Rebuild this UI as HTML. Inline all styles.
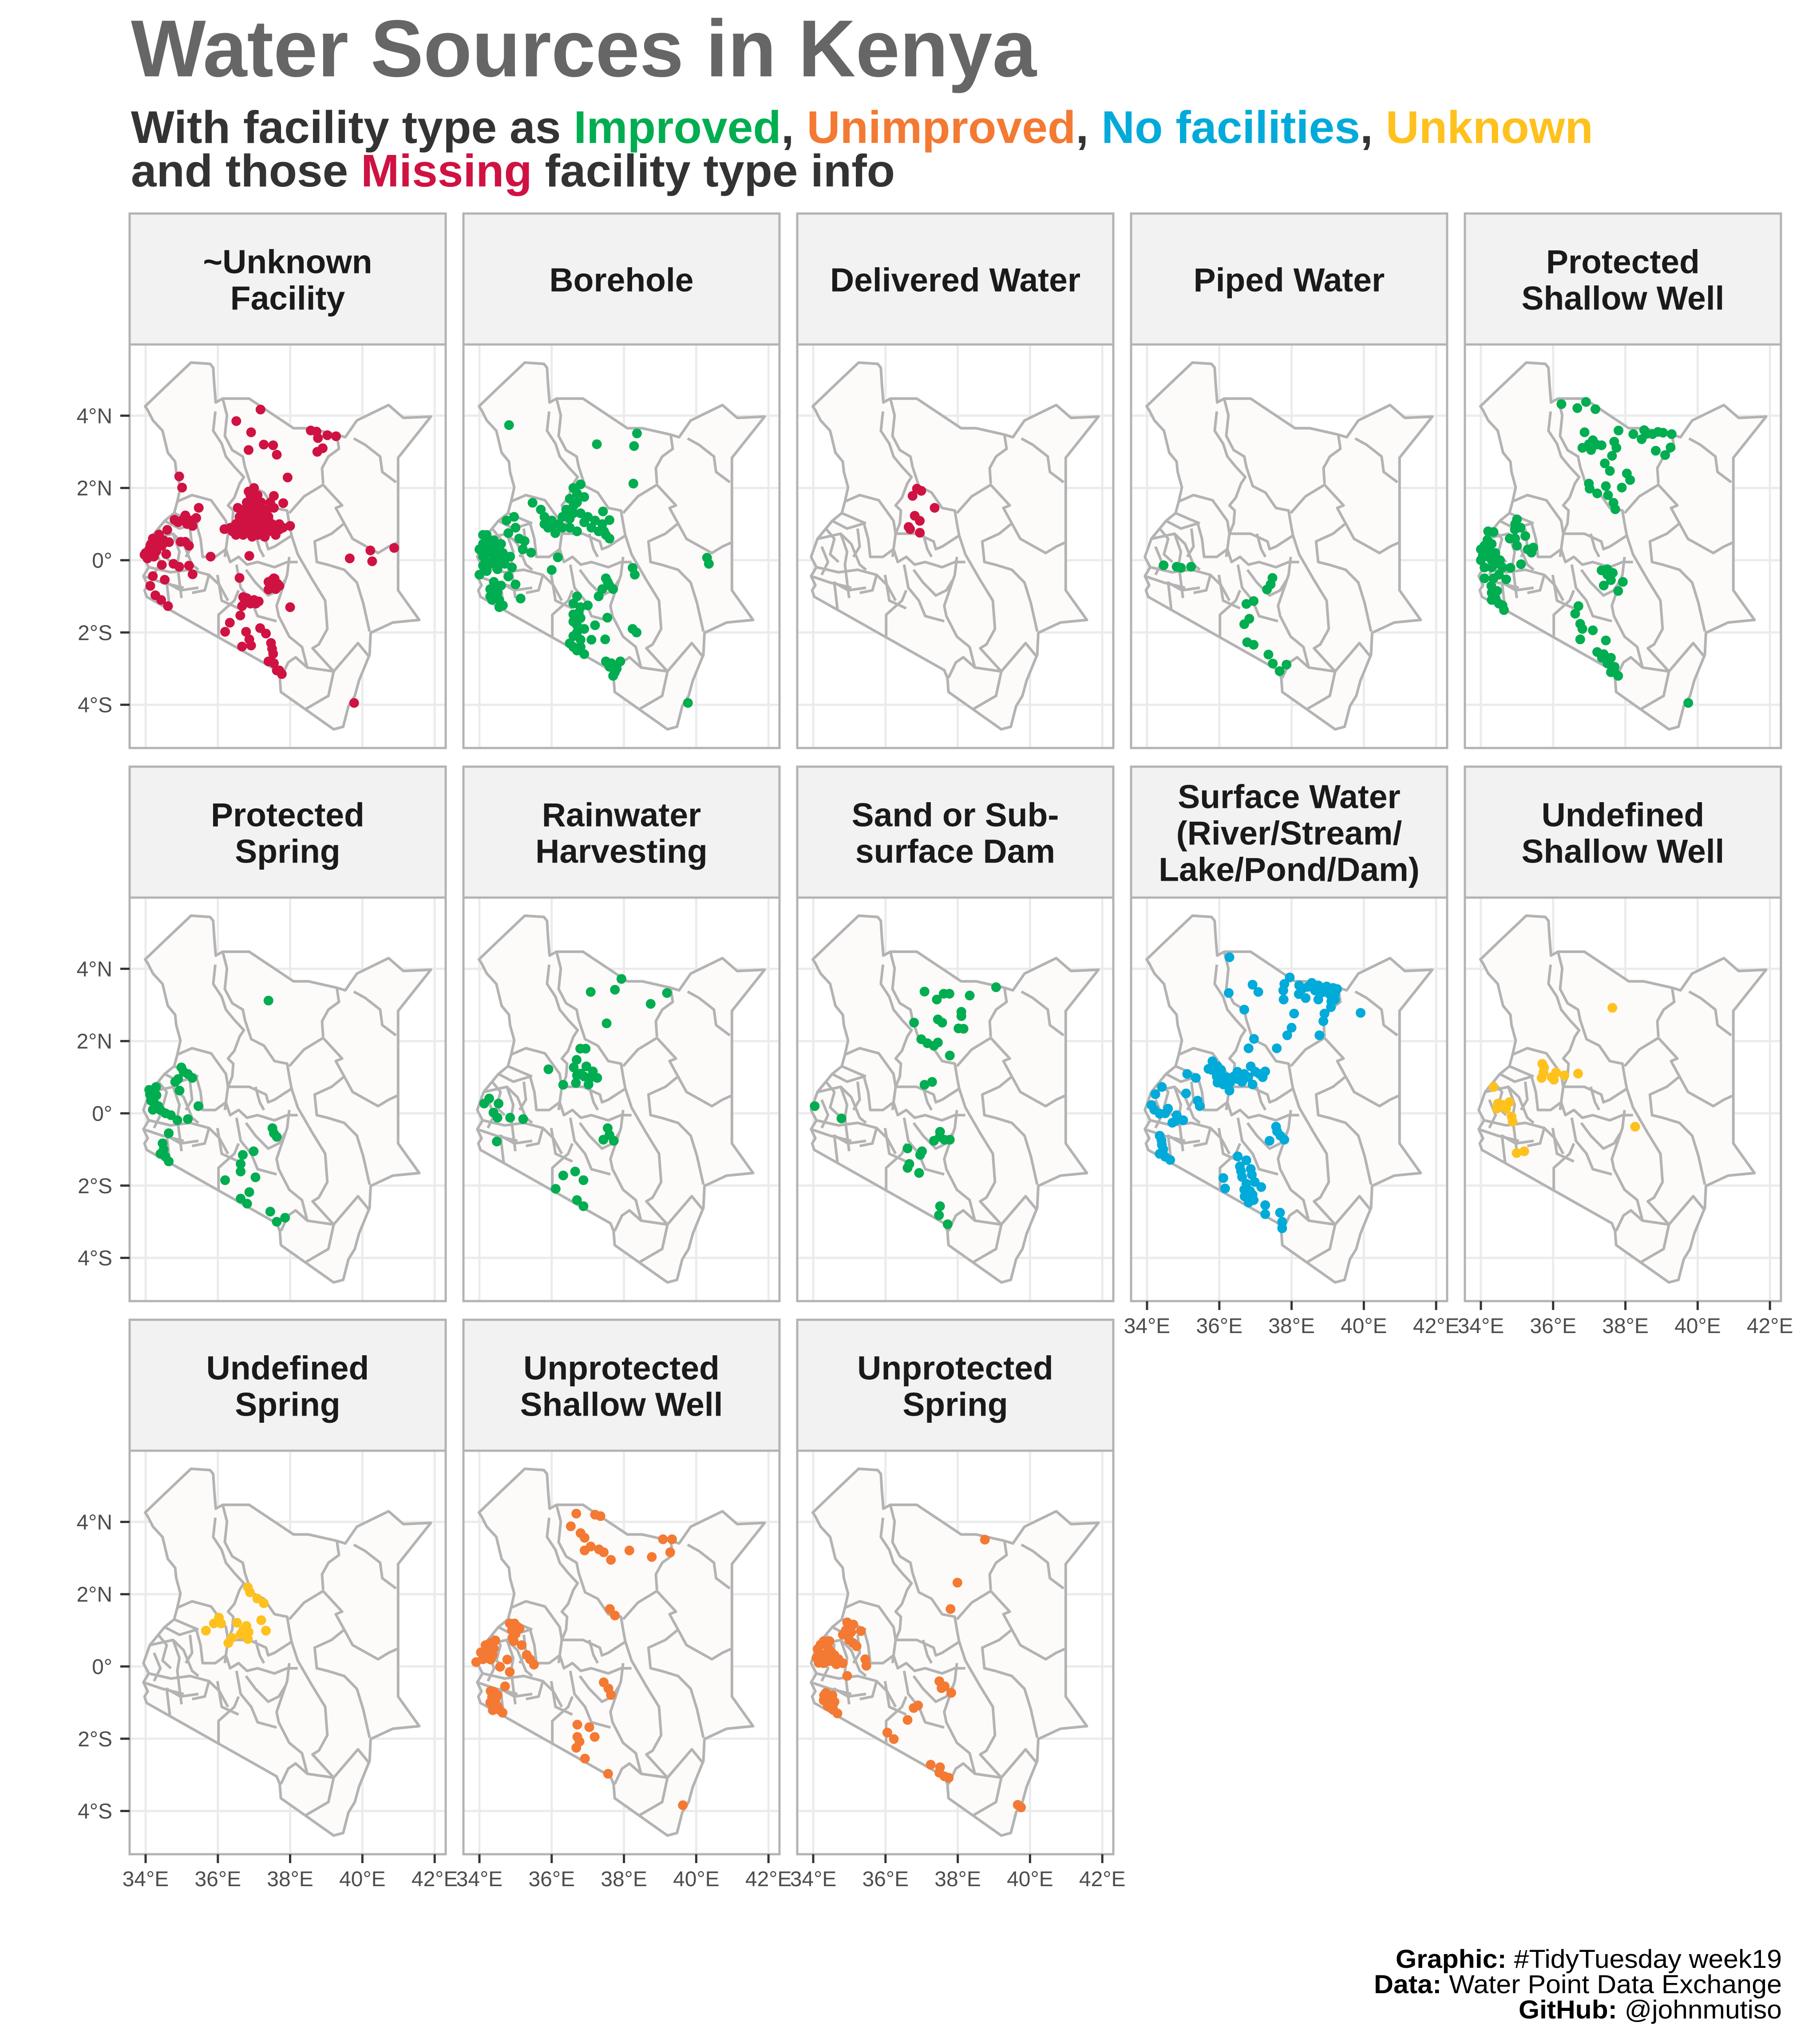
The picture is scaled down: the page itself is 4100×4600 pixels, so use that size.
<!DOCTYPE html>
<html><head><meta charset="utf-8"><title>Water Sources in Kenya</title>
<style>
html,body{margin:0;padding:0;background:#fff;}
svg{display:block;}
</style></head>
<body>
<svg id="chart" xmlns="http://www.w3.org/2000/svg" width="4100" height="4600" viewBox="0 0 4100 4600">
<rect x="0" y="0" width="4100" height="4600" fill="#ffffff"/>
<text x="295" y="172" font-family="Liberation Sans, sans-serif" font-weight="bold" font-size="182" fill="#666666" textLength="2040" lengthAdjust="spacingAndGlyphs">Water Sources in Kenya</text>
<text x="295" y="322" font-family="Liberation Sans, sans-serif" font-weight="bold" font-size="103" fill="#333333" textLength="3294" lengthAdjust="spacingAndGlyphs">With facility type as <tspan fill="#00ad50">Improved</tspan>, <tspan fill="#f47932">Unimproved</tspan>, <tspan fill="#00aad9">No facilities</tspan>, <tspan fill="#fec11d">Unknown</tspan></text>
<text x="295" y="420" font-family="Liberation Sans, sans-serif" font-weight="bold" font-size="103" fill="#333333" textLength="1721" lengthAdjust="spacingAndGlyphs">and those <tspan fill="#cf1242">Missing</tspan> facility type info</text>
<g id="panels"></g>
<g font-family="Liberation Sans, sans-serif" font-size="58" fill="#000">
<text x="4014" y="4433" text-anchor="end" textLength="870" lengthAdjust="spacingAndGlyphs"><tspan font-weight="bold">Graphic:</tspan> #TidyTuesday week19</text>
<text x="4014" y="4490" text-anchor="end" textLength="919" lengthAdjust="spacingAndGlyphs"><tspan font-weight="bold">Data:</tspan> Water Point Data Exchange</text>
<text x="4014" y="4547" text-anchor="end" textLength="593" lengthAdjust="spacingAndGlyphs"><tspan font-weight="bold">GitHub:</tspan> @johnmutiso</text>
</g>
</svg>
<script>
const lonTicks = [34, 36, 38, 40, 42];
const latTicks = [4, 2, 0, -2, -4];
const lonTickLabels = ["34°E", "36°E", "38°E", "40°E", "42°E"];
const latTickLabels = ["4°N", "2°N", "0°", "2°S", "4°S"];

const ptsUnknown = [[37.18,4.17],[36.51,3.85],[36.92,3.54],[37.27,3.2],[37.53,3.18],[37.63,2.92],[36.85,3.05],[38.57,3.59],[38.73,3.56],[38.77,3.38],[39.03,3.46],[39.27,3.43],[38.9,3.1],[38.75,3.0],[37.93,2.29],[34.93,2.32],[35.01,2.01],
[37.0,2.0],[36.9,1.8],[37.1,1.8],[36.8,1.6],[37.0,1.6],[37.2,1.6],[36.7,1.4],[36.9,1.4],[37.1,1.4],[37.3,1.4],[36.6,1.2],[36.8,1.2],[37.0,1.2],[37.2,1.2],[37.4,1.2],[36.5,1.0],[36.7,1.0],[36.9,1.0],[37.1,1.0],[37.3,1.0],[37.5,1.0],[37.7,1.0],[36.4,0.8],[36.6,0.8],[36.8,0.8],[37.0,0.8],[37.2,0.8],[37.4,0.8],[37.6,0.8],[37.8,0.9],[38.0,0.95],[36.35,0.9],[37.3,0.65],[37.6,0.7],[37.45,1.6],[37.55,1.45],[36.95,0.65],
[36.85,1.9],[37.05,1.7],[36.95,1.5],[37.15,1.5],[36.75,1.3],[36.95,1.3],[37.15,1.3],[37.35,1.3],[36.6,1.1],[36.8,1.1],[37.0,1.1],[37.2,1.1],[37.4,1.1],[36.5,0.9],[36.7,0.9],[36.9,0.9],[37.1,0.9],[37.3,0.9],[37.5,0.9],[37.7,0.85],[36.5,0.7],[36.7,0.7],[37.1,0.7],[36.55,1.45],
[37.55,1.78],[37.81,1.58],[36.18,0.86],[35.47,1.45],[35.4,1.17],[35.1,1.24],[34.8,1.12],[34.6,0.84],[34.37,0.71],[34.13,0.41],[33.97,0.15],[34.23,0.1],[34.57,0.17],[34.45,-0.13],[34.77,-0.1],[34.93,-0.18],[35.2,-0.15],[35.3,-0.39],[35.8,0.1],[34.97,0.51],[35.1,0.51],[34.2,-0.44],[34.53,-0.54],[34.13,-0.71],[34.27,-0.97],[34.43,-1.1],[34.62,-1.27],
[34.2,0.6],[34.3,0.5],[34.1,0.3],[34.0,0.2],[34.3,0.25],[34.45,0.4],[34.5,0.55],[34.15,0.45],[35.0,1.1],[35.15,1.0],[35.3,0.95],[34.65,0.5],[35.2,0.4],[34.4,0.6],[34.25,0.35],[34.05,0.05],[34.9,1.05],[35.25,1.1],
[36.87,0.12],[36.6,-0.49],[37.57,-0.51],[37.7,-0.71],[37.4,-0.81],[36.7,-1.02],[36.9,-1.12],[37.13,-1.14],[36.67,-1.27],[36.8,-1.05],[37.0,-1.1],[36.9,-1.2],[37.4,-0.6],[37.5,-0.7],[37.6,-0.8],[37.55,-0.5],[37.5,-0.55],[37.65,-0.65],[36.75,-1.15],[37.05,-1.2],
[36.62,-1.53],[36.33,-1.73],[36.2,-1.98],[36.78,-1.98],[36.87,-2.19],[36.67,-2.39],[36.92,-2.36],[37.17,-1.88],[37.33,-2.03],[37.47,-2.29],[37.53,-2.59],[37.4,-2.8],[37.63,-3.05],[37.77,-3.15],[37.5,-2.45],[37.55,-2.85],[37.7,-3.05],[38.0,-1.3],[39.65,0.05],[40.22,0.27],[40.27,-0.03],[40.88,0.34],[39.77,-3.95]];

const ptsBorehole = [[34.82,3.74],[38.36,3.51],[37.25,3.21],[38.28,3.16],[38.26,2.12],[35.47,1.59],[38.24,-0.21],[38.3,-0.4],[38.24,-1.9],[38.35,-2.0],[40.3,0.07],[40.35,-0.1],[39.77,-3.95],[37.54,-1.59],[37.48,-2.19],[36.17,0.08],[36.0,-0.27],[35.14,-1.06],[35.0,-0.67],[35.43,0.21],[35.25,0.53],[34.96,1.2],[37.42,1.35],[37.6,1.11],
[34.1,0.7],[34.2,0.5],[34.0,0.3],[34.1,0.1],[34.3,0.3],[34.4,0.55],[34.5,0.2],[34.6,0.0],[34.3,-0.1],[34.5,-0.25],[34.7,-0.1],[34.9,-0.2],[34.2,-0.3],[34.4,-0.6],[34.3,-0.8],[34.5,-0.9],[34.35,-1.1],[34.55,-1.3],[34.65,-1.25],[34.45,-1.0],[34.8,-0.45],[34.0,-0.4],[34.6,0.45],[34.8,0.75],[35.0,0.9],[34.75,1.1],[35.1,0.6],[35.2,0.3],
[34.2,0.7],[34.1,0.45],[34.2,0.2],[34.4,0.1],[34.4,0.35],[34.55,-0.1],[34.2,-0.05],[34.65,0.2],[34.4,-0.8],[34.6,-0.7],[34.3,-1.0],[34.55,-1.1],[34.85,0.1],[34.1,-0.15],
[36.6,2.0],[36.8,2.1],[36.5,1.7],[36.7,1.6],[36.9,1.75],[36.4,1.4],[36.6,1.3],[36.8,1.3],[37.0,1.2],[37.2,1.1],[37.4,1.0],[36.2,1.0],[36.0,1.1],[35.8,1.2],[35.7,1.4],[35.9,0.9],[36.1,0.75],[36.5,0.9],[36.7,0.8],[37.5,0.7],[37.6,0.6],[37.3,0.8],
[36.7,1.85],[36.6,1.5],[36.5,1.15],[36.3,1.2],[36.0,0.95],[35.8,1.0],[36.9,1.05],[37.1,0.9],[37.45,0.8],[36.3,0.9],
[37.5,-0.5],[37.6,-0.7],[37.4,-0.8],[37.7,-0.8],[37.3,-1.0],[36.7,-1.0],[36.6,-1.2],[36.8,-1.3],[37.0,-1.25],[36.6,-1.5],[36.8,-1.6],[36.7,-1.8],[36.9,-1.9],[36.6,-2.1],[36.8,-2.2],[36.5,-2.3],[36.7,-2.5],[36.9,-2.6],[37.1,-2.2],[37.2,-1.8],[37.5,-2.8],[37.6,-2.95],[37.8,-3.0],[37.7,-3.2],[37.9,-2.8],
[36.6,-1.7],[36.7,-2.0],[36.6,-2.4],[36.8,-2.4],[36.75,-1.45],[37.55,-0.6],[37.65,-2.85],[37.75,-3.1]];

const ptsDelivered = [[36.87,1.98],[36.99,1.92],[36.75,1.78],[37.36,1.45],[36.81,1.23],[36.95,1.09],[36.64,0.92],[36.68,0.86],[36.95,0.76]];

const ptsPiped = [[34.46,-0.14],[34.82,-0.18],[34.94,-0.21],[35.22,-0.18],[37.47,-0.49],[37.42,-0.67],[37.32,-0.81],[36.95,-1.13],[36.75,-1.21],[36.83,-1.62],[36.69,-1.77],[36.77,-2.27],[36.95,-2.34],[37.36,-2.61],[37.48,-2.86],[37.67,-3.07],[37.86,-2.89]];

const ptsProtShallow = [[36.23,4.32],[36.67,4.21],[36.91,4.38],[37.17,4.18],[36.87,3.54],[37.81,3.59],[38.22,3.49],[38.52,3.6],[38.6,3.5],[38.75,3.49],[38.9,3.55],[39.04,3.53],[39.28,3.49],[37.1,3.32],[36.99,3.21],[36.81,3.11],[37.34,3.18],[37.69,3.28],[37.75,3.11],[37.63,2.89],[38.45,3.35],[38.84,3.03],[39.1,2.91],[39.25,3.12],[37.43,2.68],[37.57,2.47],[38.04,2.4],[38.13,2.22],[37.9,2.01],[36.99,2.12],[37.01,1.98],[37.46,2.05],[37.22,1.85],[37.52,1.8],[37.67,1.59],[37.72,1.41],[37.2,3.2],[37.05,3.05],
[35.0,1.13],[34.94,0.85],[35.23,0.67],[35.4,0.21],[34.18,0.56],[34.35,0.78],[34.06,0.14],[34.53,0.0],[34.82,-0.21],[35.11,-0.11],[34.7,-0.53],[34.29,-0.71],[34.41,-1.06],[34.64,-1.38],[34.2,0.3],[34.0,0.0],[34.3,-0.2],[34.5,-0.4],[34.1,-0.5],[34.3,0.0],[35.0,0.4],[34.8,0.6],[34.3,-0.9],[34.5,-1.2],
[34.2,0.8],[34.1,0.4],[34.3,0.45],[34.2,0.1],[34.4,0.2],[34.0,0.3],[34.1,-0.2],[34.4,-0.1],[34.6,-0.2],[34.95,1.0],[35.1,0.9],[34.95,0.6],[35.3,0.3],[35.45,0.35],[34.35,-0.5],[34.45,-0.85],[34.6,-1.25],[34.3,-1.1],
[37.34,-0.28],[37.5,-0.4],[37.6,-0.55],[37.93,-0.6],[37.4,-0.7],[37.8,-0.85],[37.5,-0.25],[37.65,-0.35],[36.7,-1.27],[36.61,-1.48],[36.75,-1.76],[36.81,-1.9],[37.1,-1.94],[36.75,-2.19],[37.46,-2.22],[37.22,-2.54],[37.4,-2.6],[37.6,-2.7],[37.5,-2.85],[37.7,-2.95],[37.6,-3.1],[37.8,-3.2],[37.35,-2.7],[37.7,-3.1],[39.74,-3.95]];

const ptsProtSpring = [[37.4,3.12],[34.29,0.73],[34.12,0.52],[34.23,0.31],[34.41,0.09],[34.7,-0.05],[34.88,-0.19],[34.99,1.27],[35.17,1.09],[34.82,0.87],[34.94,0.63],[35.29,0.98],[35.46,0.2],[35.17,-0.16],[34.2,0.1],[34.3,0.5],[34.1,0.65],[34.15,0.35],[34.35,0.2],[34.55,0.0],[35.05,1.15],[34.9,0.95],[34.64,-0.55],[34.47,-0.83],[34.41,-1.12],[34.64,-1.33],[34.5,-1.0],[34.55,-1.2],[37.51,-0.41],[37.63,-0.65],[37.55,-0.55],[36.69,-1.15],[36.99,-1.05],[36.63,-1.4],[36.63,-1.61],[37.04,-1.77],[36.2,-1.85],[36.87,-2.18],[36.63,-2.36],[36.81,-2.5],[37.45,-2.72],[37.63,-3.0],[37.86,-2.89]];

const ptsRain = [[37.93,3.72],[37.08,3.36],[37.75,3.42],[39.19,3.33],[38.74,3.03],[37.52,2.49],[36.79,1.79],[36.94,1.79],[36.69,1.48],[36.61,1.27],[36.96,1.3],[37.14,1.16],[37.26,0.98],[37.02,0.8],[36.67,0.84],[36.9,1.02],[36.8,1.1],[37.1,1.0],[36.7,1.05],[35.91,1.22],[36.32,0.79],[34.27,0.41],[34.13,0.27],[34.53,0.27],[34.39,0.02],[34.5,-0.12],[34.85,-0.12],[35.21,-0.16],[34.48,-0.78],[37.55,-0.41],[37.43,-0.73],[37.72,-0.76],[37.6,-0.6],[36.32,-1.72],[36.65,-1.61],[36.88,-1.85],[36.11,-2.09],[36.7,-2.4],[36.88,-2.57]];

const ptsSand = [[37.08,3.37],[37.42,3.15],[37.61,3.31],[37.77,3.31],[38.33,3.26],[39.06,3.49],[38.1,2.81],[38.1,2.69],[37.45,2.6],[37.57,2.51],[36.79,2.51],[38.02,2.35],[38.16,2.34],[36.99,2.05],[37.16,1.94],[37.34,1.87],[37.45,1.96],[37.78,1.6],[37.08,0.79],[37.29,0.87],[34.04,0.2],[34.78,-0.14],[37.51,-0.51],[37.34,-0.76],[37.63,-0.73],[37.78,-0.73],[37.5,-0.65],[36.61,-0.97],[37.01,-1.05],[36.96,-1.15],[36.66,-1.4],[36.61,-1.51],[36.93,-1.65],[37.51,-2.57],[37.48,-2.82],[37.72,-3.07]];

const ptsSurface = [[36.28,4.32],[36.26,3.33],[36.69,2.87],[36.92,3.56],[37.08,3.36],[37.95,3.76],[37.8,3.58],[37.77,3.4],[37.78,3.15],[38.21,3.54],[38.39,3.19],[38.56,3.61],[38.74,3.54],[38.74,3.15],[38.97,3.51],[39.15,3.47],[39.26,3.44],[39.2,3.15],[39.09,2.94],[38.91,2.76],[38.88,2.55],[38.77,2.16],[39.91,2.78],[38.07,2.76],[38.0,2.37],[37.88,2.16],[36.96,2.06],[36.81,1.8],[37.59,1.8],[38.3,3.45],[38.45,3.5],[38.65,3.4],[38.85,3.35],[39.05,3.3],[38.2,3.3],[39.2,3.3],[39.1,3.1],
[35.81,1.44],[35.7,1.23],[35.93,1.02],[36.11,0.8],[36.28,0.63],[36.4,1.02],[36.69,1.09],[36.87,1.3],[37.11,1.09],[37.27,1.16],[36.63,0.87],[36.92,0.8],[35.95,1.3],[36.2,1.0],[36.5,1.15],[35.8,1.2],[36.05,1.2],[36.3,0.85],[36.8,1.0],[37.0,1.15],[36.1,0.95],[35.95,0.85],[36.5,0.95],[37.2,1.0],
[35.11,1.09],[35.35,0.98],[34.41,0.73],[34.23,0.53],[35.08,0.55],[35.46,0.2],[34.12,0.23],[34.35,-0.01],[34.58,0.13],[34.82,-0.05],[35.0,-0.19],[34.7,-0.26],[34.35,-0.62],[34.41,-0.87],[34.35,-1.12],[34.64,-1.29],[34.45,-1.0],[34.2,0.1],[34.5,0.0],[34.8,-0.2],[34.4,-0.75],[34.5,-1.2],[35.4,0.35],
[37.57,-0.37],[37.69,-0.62],[37.39,-0.76],[37.8,-0.73],[37.6,-0.5],[36.51,-1.19],[36.57,-1.47],[36.87,-1.54],[36.63,-1.76],[36.98,-1.9],[36.69,-2.11],[36.92,-2.25],[36.81,-2.47],[36.11,-1.79],[36.16,-2.08],[37.16,-2.04],[37.27,-2.54],[37.27,-2.79],[37.68,-2.75],[37.74,-3.0],[37.74,-3.18],[36.75,-1.3],[36.9,-1.7],[36.6,-1.6],[36.75,-1.95],[36.85,-2.15],[36.7,-2.3],[36.95,-2.4]];

const ptsUndefShallow = [[37.64,2.92],[35.7,1.37],[35.75,1.27],[35.73,1.13],[35.68,0.98],[35.96,1.0],[36.08,1.13],[36.02,0.93],[36.31,1.05],[36.69,1.1],[34.35,0.73],[34.47,0.27],[34.58,0.24],[34.44,0.13],[34.79,0.31],[34.7,0.13],[34.85,-0.09],[34.88,-0.23],[34.99,-1.1],[35.2,-1.05],[38.27,-0.37]];

const ptsUndefSpring = [[36.83,2.19],[36.89,2.05],[37.09,1.88],[37.27,1.75],[36.03,1.35],[35.89,1.19],[36.09,1.19],[35.67,0.99],[36.53,1.21],[36.79,1.12],[36.63,0.89],[36.83,0.76],[36.39,0.79],[36.29,0.65],[37.2,1.28],[37.33,0.99],[36.7,1.0],[36.85,0.95]];

const ptsUnprotShallow = [[36.68,4.23],[37.2,4.2],[37.35,4.16],[36.53,3.88],[36.8,3.69],[36.91,3.56],[36.91,3.21],[37.08,3.32],[37.31,3.24],[37.44,3.16],[37.64,2.95],[38.15,3.21],[38.77,3.03],[39.08,3.52],[39.33,3.52],[39.28,3.16],[37.61,1.59],[37.75,1.41],
[34.17,0.25],[33.91,0.12],[34.04,0.39],[34.17,0.59],[34.31,0.65],[34.37,0.32],[34.44,0.72],[34.31,0.19],[34.84,1.19],[34.97,1.19],[35.11,1.05],[34.91,0.79],[35.17,0.59],[34.77,0.19],[34.57,-0.01],[34.84,-0.15],[35.31,0.32],[35.51,0.05],[34.71,-0.55],[34.31,-0.68],[34.44,-0.95],[34.37,-1.21],[34.64,-1.28],[34.5,-0.8],
[34.2,0.5],[34.1,0.2],[34.25,0.4],[34.4,0.5],[34.9,1.0],[35.0,0.9],[34.95,0.7],[35.05,1.1],[35.4,0.2],[34.35,-0.85],[34.5,-1.1],[34.4,-0.7],[34.55,-1.2],[34.3,-1.0],
[37.44,-0.44],[37.57,-0.61],[37.64,-0.79],[36.71,-1.61],[37.04,-1.68],[36.71,-1.95],[36.77,-2.08],[36.68,-2.25],[37.19,-1.95],[36.92,-2.55],[37.56,-2.97],[39.63,-3.84]];

const ptsUnprotSpring = [[38.75,3.51],[37.99,2.32],[37.8,1.59],[34.94,1.22],[35.11,1.16],[35.32,0.98],[34.82,0.88],[35.0,0.73],[35.2,0.56],[34.29,0.7],[34.12,0.48],[34.41,0.52],[34.09,0.24],[34.29,0.09],[34.59,0.31],[34.64,0.06],[34.82,0.09],[34.94,-0.26],[35.44,0.2],[35.47,0.02],[34.2,0.35],[34.35,0.3],
[34.2,0.6],[34.45,0.7],[34.5,0.4],[34.15,0.1],[34.45,0.15],[34.7,0.2],[34.9,1.0],[35.05,0.95],[34.95,0.85],[35.1,0.65],
[34.35,-0.73],[34.53,-0.8],[34.29,-0.94],[34.47,-1.12],[34.67,-1.3],[34.59,-0.98],[34.4,-1.1],[34.45,-0.85],[34.55,-1.2],[34.3,-0.8],[37.49,-0.41],[37.64,-0.55],[37.82,-0.73],[37.55,-0.6],[36.9,-1.08],[36.78,-1.15],[36.61,-1.48],[36.05,-1.83],[36.23,-2.01],[37.25,-2.72],[37.51,-2.79],[37.49,-2.94],[37.63,-3.04],[37.75,-3.08],[39.66,-3.83],[39.75,-3.9]];

const facetTitles = [["~Unknown","Facility"],["Borehole"],["Delivered Water"],["Piped Water"],["Protected","Shallow Well"],
["Protected","Spring"],["Rainwater","Harvesting"],["Sand or Sub-","surface Dam"],["Surface Water","(River/Stream/","Lake/Pond/Dam)"],["Undefined","Shallow Well"],
["Undefined","Spring"],["Unprotected","Shallow Well"],["Unprotected","Spring"]];
const facetColors = ["#cf1242","#00ad50","#cf1242","#00ad50","#00ad50","#00ad50","#00ad50","#00ad50","#00aad9","#fec11d","#fec11d","#f47932","#f47932"];
const facetPoints = [ptsUnknown,ptsBorehole,ptsDelivered,ptsPiped,ptsProtShallow,ptsProtSpring,ptsRain,ptsSand,ptsSurface,ptsUndefShallow,ptsUndefSpring,ptsUnprotShallow,ptsUnprotSpring];

const outlineRef = [[78,245],[160,180],[295,75],[385,80],[400,95],[405,160],[412,230],[445,215],[570,215],[780,330],[850,330],[985,355],[1025,365],[1080,300],[1230,240],[1300,290],[1430,285],[1275,445],[1275,960],[1375,1075],[1250,1085],[1145,1125],[1140,1210],[1090,1310],[1070,1370],[1040,1410],[1015,1490],[970,1500],[720,1355],[715,1300],[700,1270],[85,985],[75,960],[90,940],[70,905],[95,870],[70,830],[100,760],[170,690],[215,660],[230,615],[245,560],[225,500],[220,460],[185,425],[160,340],[115,300],[90,260]];
const innerRef = [
[[410,265],[400,340],[440,390],[460,440],[500,480],[545,520],[525,545],[500,600],[470,630],[495,650],[490,700],[470,740],[460,800],[455,830]],
[[445,215],[465,280],[455,360],[490,415],[540,440],[550,480],[580,555],[640,580],[690,640],[750,650],[760,700],[770,745]],
[[985,355],[995,410],[945,440],[915,485],[920,545]],
[[760,660],[830,595],[920,550],[965,590],[1010,630],[980,640],[1020,700],[1060,760],[1180,815],[1230,790],[1270,775]],
[[1065,370],[1120,395],[1190,440],[1200,500],[1265,540]],
[[1020,700],[960,740],[880,770],[890,850],[940,860],[1020,880],[1080,930],[1110,1010],[1140,1120]],
[[770,745],[800,820],[870,920],[930,1000],[940,1110],[900,1170],[870,1185],[970,1275],[1085,1165],[1140,1220]],
[[760,830],[750,900],[700,1020],[710,1060],[760,1140],[820,1180],[845,1260],[970,1275]],
[[720,1300],[755,1240],[790,1220],[845,1260]],
[[970,1275],[945,1370],[840,1420]],
[[425,1140],[425,1055],[500,1000],[520,960]],
[[195,1035],[180,930],[245,960],[330,950]],
[[470,740],[570,740],[650,770],[660,800],[690,790],[775,745]],
[[460,800],[480,850],[520,830],[560,860],[610,850],[690,870],[750,850],[800,850]],
[[510,860],[530,950],[580,1000],[610,1060],[700,1080]],
[[555,880],[600,930],[660,980],[710,960],[740,920]],
[[170,690],[240,720],[320,700],[340,760],[350,830],[410,830],[460,800]],
[[100,760],[210,740],[260,780],[300,860],[330,880]],
[[95,870],[200,890],[290,880],[380,900],[430,940],[470,1000]],
[[70,905],[160,930],[260,950]],
[[210,740],[240,810],[230,860],[250,990]],
[[120,790],[150,850],[120,900]],
[[230,615],[300,590],[390,610],[460,690],[470,740]],
[[215,660],[300,690],[330,700]],
[[600,740],[620,800],[640,830]],
[[420,900],[440,1000],[520,1030]],
[[140,720],[180,760],[160,820],[200,850]],
[[290,720],[300,790],[270,830]],
[[380,900],[360,960],[300,970]]
];
function refLon(d){return 34+(d-80)/171;}
function refLat(d){return (843-d)/140.4;}

const colLeft=[292,1044,1796,2548,3300], rowTop=[481,1727,2973];
const STRIP=295, PH=909, PW=712, DEG=81.4;
function xScale(p,lon){return p.x+36+(lon-34)*DEG;}
function yScale(p,lat){return p.y+486-lat*DEG;}
const NS="http://www.w3.org/2000/svg";
function mk(tag,attrs,parent){const e=document.createElementNS(NS,tag);for(const k in attrs)e.setAttribute(k,attrs[k]);parent.appendChild(e);return e;}
const root=document.getElementById('panels');

function pathFrom(p,ref,close){
  let s='';
  ref.forEach((q,i)=>{s+=(i?'L':'M')+xScale(p,refLon(q[0])).toFixed(1)+','+yScale(p,refLat(q[1])).toFixed(1);});
  return s+(close?'Z':'');
}

facetTitles.forEach((lines,i)=>{
  const col=i%5,row=Math.floor(i/5);
  const sx=colLeft[col], sy=rowTop[row];
  const p={x:sx,y:sy+STRIP};
  const g=mk('g',{},root);
  
  
  const strip=mk('rect',{x:sx,y:sy,width:PW,height:STRIP,fill:'#f2f2f2',stroke:'#b3b3b3','stroke-width':5},g);
  
  
  const cx=sx+PW/2, cy=sy+STRIP/2;
  lines.forEach((t,j)=>{
    const ty=cy+28+(j-(lines.length-1)/2)*82;
    const tx=mk('text',{x:cx,y:ty,'text-anchor':'middle','font-family':'Liberation Sans, sans-serif','font-weight':'bold','font-size':75,fill:'#1a1a1a'},g);
    tx.textContent=t;
    
    
  });
  const bg=mk('rect',{x:sx,y:p.y,width:PW,height:PH,fill:'#ffffff'},g);
  
  
  lonTicks.forEach(l=>{const gl=mk('line',{x1:xScale(p,l),x2:xScale(p,l),y1:p.y,y2:p.y+PH,stroke:'#ebebeb','stroke-width':5},g);
    
    });
  latTicks.forEach(l=>{const gl=mk('line',{x1:sx,x2:sx+PW,y1:yScale(p,l),y2:yScale(p,l),stroke:'#ebebeb','stroke-width':5},g);
    
    });
  const mp=mk('path',{d:pathFrom(p,outlineRef,true),fill:'#fdfbfa',stroke:'#b3b3b3','stroke-width':6,'stroke-linejoin':'round'},g);
  
  
  innerRef.forEach(r=>{const ln=mk('path',{d:pathFrom(p,r,false),fill:'none',stroke:'#b3b3b3','stroke-width':6,'stroke-linejoin':'round'},g);
    
    });
  facetPoints[i].forEach(pt=>{
    const c=mk('circle',{cx:xScale(p,pt[0]).toFixed(1),cy:yScale(p,pt[1]).toFixed(1),r:11,fill:facetColors[i]},g);
    
    
  });
  const br=mk('rect',{x:sx,y:p.y,width:PW,height:PH,fill:'none',stroke:'#b3b3b3','stroke-width':5},g);
  
  
  if(col===0){
    latTicks.forEach((l,k)=>{
      const y=yScale(p,l);
      const tk=mk('line',{x1:sx-21,x2:sx,y1:y,y2:y,stroke:'#333333','stroke-width':5},g);
      
      
      const lb=mk('text',{x:sx-39,y:y+17,'text-anchor':'end','font-family':'Liberation Sans, sans-serif','font-size':48,fill:'#4d4d4d'},g);
      lb.textContent=latTickLabels[k];
      
      
    });
  }
  if(row===2 || (row===1 && col>=3)){
    lonTicks.forEach((l,k)=>{
      const x=xScale(p,l);
      const tk=mk('line',{x1:x,x2:x,y1:p.y+PH,y2:p.y+PH+20,stroke:'#333333','stroke-width':5},g);
      
      
      const lb=mk('text',{x:x,y:p.y+PH+72,'text-anchor':'middle','font-family':'Liberation Sans, sans-serif','font-size':48,fill:'#4d4d4d'},g);
      lb.textContent=lonTickLabels[k];
      
      
    });
  }
});
</script>
</body></html>
